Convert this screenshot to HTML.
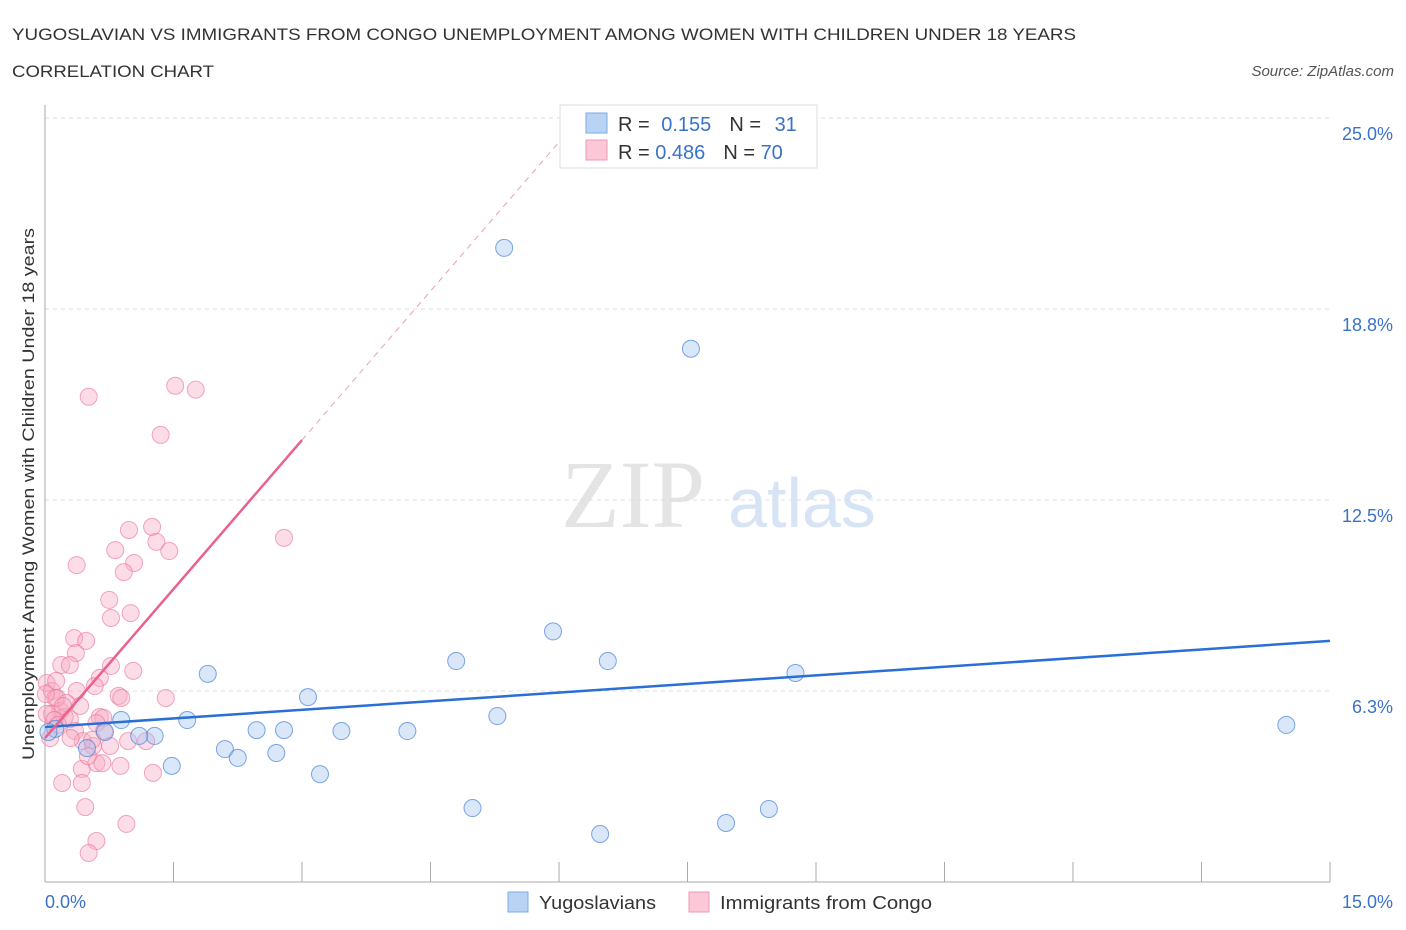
<!DOCTYPE html>
<html><head><meta charset="utf-8"><style>
body{margin:0;background:#fff;font-family:"Liberation Sans",sans-serif;}
svg{display:block}
</style></head><body>
<svg id="chart" width="1406" height="930" xmlns="http://www.w3.org/2000/svg">
<text x="12" y="40" font-size="17" fill="#333" textLength="1064" lengthAdjust="spacingAndGlyphs">YUGOSLAVIAN VS IMMIGRANTS FROM CONGO UNEMPLOYMENT AMONG WOMEN WITH CHILDREN UNDER 18 YEARS</text>
<text x="12" y="77" font-size="17" fill="#333" textLength="202" lengthAdjust="spacingAndGlyphs">CORRELATION CHART</text>
<text x="1394" y="76" font-size="15" fill="#555" text-anchor="end" font-style="italic">Source: ZipAtlas.com</text>
<text x="633" y="527" font-size="96" fill="#e4e4e4" text-anchor="middle" font-family="Liberation Serif">ZIP</text>
<text x="802" y="527" font-size="70" fill="#d6e4f5" text-anchor="middle">atlas</text>
<g id="grid"></g>
<g id="marks"></g>
<text transform="translate(34,494) rotate(-90)" font-size="17" fill="#333" text-anchor="middle" textLength="532" lengthAdjust="spacingAndGlyphs">Unemployment Among Women with Children Under 18 years</text>
<g>
<rect x="560" y="105" width="257" height="63" fill="#fff" stroke="#ddd"/>
<rect x="586" y="113" width="21" height="20" fill="#b9d3f5" stroke="#7fa9e0"/>
<rect x="586" y="140" width="21" height="20" fill="#fcc7d6" stroke="#eb9ab2"/>
<text x="618" y="131" font-size="20" fill="#333">R = <tspan fill="#3a72c9" dx="6">0.155</tspan><tspan fill="#333" dx="18">N = </tspan><tspan fill="#3a72c9" dx="8">31</tspan></text>
<text x="618" y="159" font-size="20" fill="#333">R = <tspan fill="#3a72c9">0.486</tspan><tspan fill="#333" dx="18">N = </tspan><tspan fill="#3a72c9">70</tspan></text>
</g>
<g>
<rect x="508" y="892" width="20" height="20" fill="#b9d3f5" stroke="#7fa9e0"/>
<text x="539" y="909" font-size="18" fill="#333" textLength="117" lengthAdjust="spacingAndGlyphs">Yugoslavians</text>
<rect x="689" y="892" width="20" height="20" fill="#fcc7d6" stroke="#eb9ab2"/>
<text x="720" y="909" font-size="18" fill="#333" textLength="212" lengthAdjust="spacingAndGlyphs">Immigrants from Congo</text>
</g>
<text x="45" y="908" font-size="18" fill="#3a72c9">0.0%</text>
<text x="1393" y="908" font-size="18" fill="#3a72c9" text-anchor="end">15.0%</text>
</svg>
<script>
const yTicks=[25,18.75,12.5,6.25];
const yTickLabels=["25.0%","18.8%","12.5%","6.3%"];
const xTicks=[0,1.5,3,4.5,6,7.5,9,10.5,12,13.5,15];
const yugoX=[5.36,7.54,5.93,4.80,6.57,8.76,1.90,3.07,1.66,0.89,5.28,14.49,2.47,2.79,3.46,4.23,1.28,1.10,0.70,2.10,0.49,2.25,2.70,1.48,3.21,4.99,8.45,7.95,6.48,0.12,0.04];
const yugoY=[20.75,17.45,8.20,7.23,7.23,6.84,6.81,6.05,5.30,5.30,5.43,5.14,4.97,4.97,4.94,4.94,4.78,4.78,4.91,4.35,4.38,4.06,4.22,3.80,3.53,2.42,2.39,1.93,1.57,5.01,4.91];
const congoX=[0.51,1.52,1.76,1.35,0.37,0.82,0.98,1.25,1.30,1.45,1.04,0.92,0.75,0.77,1.00,0.34,0.48,0.36,0.19,0.29,0.77,1.03,0.64,0.58,0.37,0.02,0.08,0.12,0.86,0.89,1.41,0.41,0.18,0.23,0.29,0.08,0.64,0.68,0.60,0.69,0.35,0.97,1.18,0.56,0.44,0.55,0.30,0.43,0.60,0.67,0.88,1.26,0.20,0.43,0.47,0.95,0.60,0.51,2.79,0.02,0.14,0.25,0.21,0.11,0.15,0.76,0.06,0.50,0.01,0.13];
const congoY=[15.88,16.24,16.11,14.63,10.37,10.86,11.52,11.62,11.13,10.83,10.44,10.14,9.23,8.64,8.80,7.98,7.89,7.49,7.10,7.10,7.07,6.91,6.68,6.41,6.25,6.51,6.25,6.02,6.09,6.02,6.02,5.76,5.60,5.40,5.33,5.50,5.40,5.37,5.20,4.94,4.94,4.61,4.61,4.45,4.61,4.65,4.71,3.70,3.89,3.89,3.80,3.57,3.24,3.24,2.45,1.90,1.34,0.95,11.26,5.50,6.02,5.86,5.76,5.30,5.14,4.45,4.71,4.12,6.15,6.58];
const blueLine=[5.07,7.89];
const pinkLine=[4.71,3.25];
const X0=45,X1=1330,Y0=882,PY=30.56;
const xs=v=>X0+v*(X1-X0)/15, ys=v=>Y0-v*PY;
const NS="http://www.w3.org/2000/svg";
function mk(t,a,p){const e=document.createElementNS(NS,t);for(const k in a)e.setAttribute(k,a[k]);p.appendChild(e);return e;}
const g=document.getElementById('grid'),m=document.getElementById('marks');
yTicks.forEach((v,i)=>{
 const l=mk('line',{x1:X0,x2:1330,y1:ys(v),y2:ys(v),stroke:'#ddd','stroke-dasharray':'4,4'},g);
 
 
 const t=mk('text',{x:1393,y:ys(v)+22,'font-size':18,fill:'#3a72c9','text-anchor':'end'},g);
 t.textContent=yTickLabels[i];
 
 
});
const ax=mk('line',{x1:X0,x2:X0,y1:105,y2:Y0,stroke:'#aaa'},g);


const bx=mk('line',{x1:X0,x2:1330,y1:Y0,y2:Y0,stroke:'#aaa'},g);


xTicks.forEach(v=>{
 const t=mk('line',{x1:xs(v),x2:xs(v),y1:Y0-20,y2:Y0,stroke:'#aaa'},g);
 
 
});
congoX.forEach((x,i)=>{
 const c=mk('circle',{cx:xs(x),cy:ys(congoY[i]),r:8.5,fill:'rgba(248,170,195,0.4)',stroke:'rgba(235,120,155,0.65)','stroke-width':1},m);
 
 
});
yugoX.forEach((x,i)=>{
 const c=mk('circle',{cx:xs(x),cy:ys(yugoY[i]),r:8.5,fill:'rgba(160,196,240,0.4)',stroke:'rgba(70,130,215,0.7)','stroke-width':1},m);
 
 
});
const bl=mk('line',{x1:xs(0),y1:ys(blueLine[0]),x2:xs(15),y2:ys(blueLine[1]),stroke:'#2a6fd6','stroke-width':2.5},m);


const pl=mk('line',{x1:xs(0),y1:ys(pinkLine[0]),x2:xs(3),y2:ys(pinkLine[0]+3*pinkLine[1]),stroke:'#e8628d','stroke-width':2.5},m);


const xe=(25-pinkLine[0])/pinkLine[1];
const pd=mk('line',{x1:xs(3),y1:ys(pinkLine[0]+3*pinkLine[1]),x2:xs(xe),y2:ys(25),stroke:'#e8a0b6','stroke-width':1,'stroke-dasharray':'6,5'},m);


</script>
</body></html>
